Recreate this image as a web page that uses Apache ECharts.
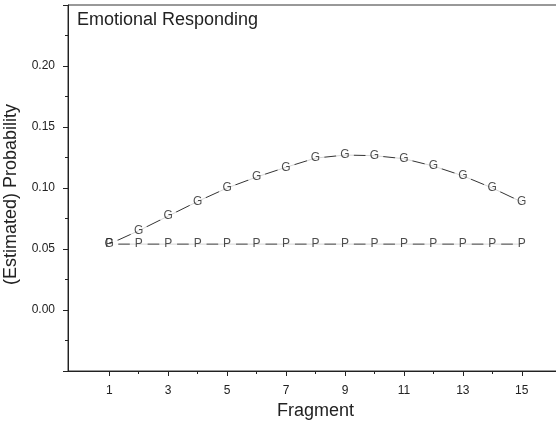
<!DOCTYPE html>
<html>
<head>
<meta charset="utf-8">
<script src="https://cdn.jsdelivr.net/npm/echarts@6/dist/echarts.min.js"></script>
<style>
  html, body { margin: 0; padding: 0; background: #fff; }
  #main { width: 556px; height: 424px; }
</style>
</head>
<body>
<div id="main"></div>
<script>
// data
var fragments = [1, 2, 3, 4, 5, 6, 7, 8, 9, 10, 11, 12, 13, 14, 15];
var gValues = [0.054, 0.065, 0.077, 0.089, 0.100, 0.109, 0.117, 0.1245, 0.127, 0.1265, 0.124, 0.118, 0.110, 0.100, 0.0885];
var pValues = [0.054, 0.054, 0.054, 0.054, 0.054, 0.054, 0.054, 0.054, 0.054, 0.054, 0.054, 0.054, 0.054, 0.054, 0.054];
var xLabels = [1, 3, 5, 7, 9, 11, 13, 15];
var xMinor = [2, 4, 6, 8, 10, 12, 14];

var font = "'Liberation Sans', Arial, sans-serif";
var ink = '#222';

function pairs(vals) {
    var out = [];
    for (var i = 0; i < fragments.length; i++) {
        out.push([fragments[i], vals[i]]);
    }
    return out;
}

// a line, white discs under the letters, then the letters themselves
function group(name, vals, letter) {
    var d = pairs(vals);
    return [
        {
            name: name, type: 'line', data: d, z: 2,
            symbol: 'none',
            lineStyle: { color: '#333', width: 1 }
        },
        {
            type: 'scatter', data: d, z: 3,
            symbol: 'circle', symbolSize: 18,
            itemStyle: { color: '#fff' }
        },
        {
            type: 'scatter', data: d, z: 4,
            symbolSize: 1,
            itemStyle: { color: 'rgba(0,0,0,0)' },
            label: {
                show: true, position: 'inside', formatter: letter,
                color: ink, fontFamily: font, fontSize: 12
            }
        }
    ];
}

var myChart = echarts.init(document.getElementById('main'));
var option = {
    animation: false,
    backgroundColor: '#fff',
    title: {
        text: 'Emotional Responding',
        left: 77, top: 11, padding: 0,
        textStyle: { color: ink, fontFamily: font, fontSize: 18, fontWeight: 'normal' }
    },
    grid: {
        left: 68, top: 5, right: -7, bottom: 53,
        outerBoundsMode: 'none',
        show: true, borderColor: '#333', borderWidth: 1
    },
    xAxis: [{
        type: 'value', min: -0.4, max: 16.4,
        name: 'Fragment', nameLocation: 'middle', nameGap: 31,
        nameTextStyle: { color: ink, fontFamily: font, fontSize: 18 },
        axisLine: { onZero: false, lineStyle: { color: ink } },
        axisTick: { customValues: xLabels, length: 5, lineStyle: { color: ink } },
        axisLabel: { customValues: xLabels, margin: 14, color: ink, fontFamily: font, fontSize: 12 },
        splitLine: { show: false }
    }, {
        type: 'value', min: -0.4, max: 16.4, position: 'bottom',
        axisLine: { show: false, onZero: false },
        axisTick: { customValues: xMinor, length: 3, lineStyle: { color: ink } },
        axisLabel: { show: false },
        splitLine: { show: false }
    }],
    yAxis: {
        type: 'value', min: -0.05, max: 0.25, interval: 0.05,
        name: '(Estimated) Probability', nameLocation: 'middle', nameGap: 48,
        nameTextStyle: { color: ink, fontFamily: font, fontSize: 18, padding: [0, 13, 0, 0] },
        axisLine: { show: true, onZero: false, lineStyle: { color: ink } },
        axisTick: { show: true, length: 5, lineStyle: { color: ink } },
        minorTick: { show: true, splitNumber: 2, length: 3, lineStyle: { color: ink } },
        axisLabel: {
            showMinLabel: false, showMaxLabel: false, margin: 13,
            color: ink, fontFamily: font, fontSize: 12,
            formatter: function (v) { return v.toFixed(2); }
        },
        splitLine: { show: false }
    },
    series: group('G', gValues, 'G').concat(group('P', pValues, 'P'))
};
myChart.setOption(option);
</script>
</body>
</html>
